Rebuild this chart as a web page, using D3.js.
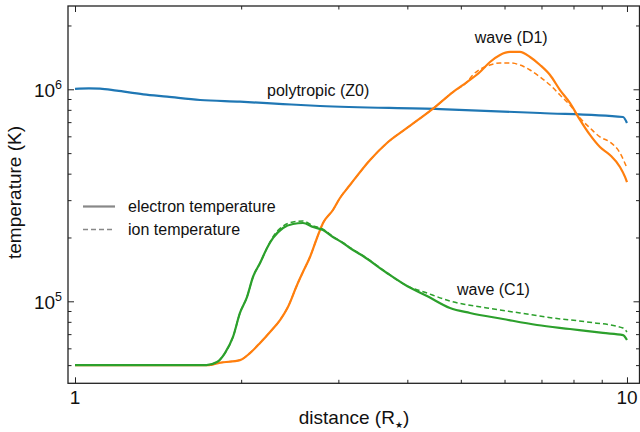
<!DOCTYPE html>
<html>
<head>
<meta charset="utf-8">
<script src="https://cdn.jsdelivr.net/npm/d3@7"></script>
<style>
  html, body { margin: 0; padding: 0; background: #fff; }
  svg { display: block; font-family: "Liberation Sans", Arial, Helvetica, sans-serif; }
</style>
</head>
<body>
<svg id="chart" width="640" height="432"></svg>
<script>
// ---- data (distance in R*, temperature in K) ----
const polytropicZ0 = [[1,1.005e6],[1.06,1.01e6],[1.11,1.008e6],[1.19,0.985e6],[1.33,0.947e6],[1.468,0.923e6],[1.685,0.89e6],[1.99,0.874e6],[2.381,0.852e6],[2.779,0.834e6],[4.584,0.807e6],[6.958,0.773e6],[9.835,0.74e6],[10,0.693e6]];

const waveD1Electron = [[1,5.0e4],[1.75,5.0e4],[1.83,5.13e4],[1.99,5.28e4],[2.075,5.7e4],[2.164,6.36e4],[2.256,7.17e4],[2.352,8.16e4],[2.431,9.4e4],[2.525,1.194e5],[2.588,1.375e5],[2.665,1.618e5],[2.744,1.989e5],[2.814,2.34e5],[2.933,2.696e5],[3.02,3.07e5],[3.149,3.536e5],[3.424,4.64e5],[3.674,5.58e5],[3.995,6.57e5],[4.452,8.1e5],[4.839,9.71e5],[5.13,1.082e6],[5.416,1.207e6],[5.647,1.345e6],[5.888,1.452e6],[6.138,1.5e6],[6.4,1.5e6],[6.673,1.42e6],[6.958,1.302e6],[7.254,1.168e6],[7.563,0.992e6],[7.882,0.862e6],[8.22,0.717e6],[8.57,0.609e6],[8.934,0.534e6],[9.315,0.49e6],[9.712,0.43e6],[9.918,0.386e6],[10,0.365e6]];

const waveD1Ion = [[1,5.0e4],[1.75,5.0e4],[1.83,5.13e4],[1.99,5.28e4],[2.075,5.7e4],[2.164,6.36e4],[2.256,7.17e4],[2.352,8.16e4],[2.431,9.4e4],[2.525,1.194e5],[2.588,1.375e5],[2.665,1.618e5],[2.744,1.989e5],[2.814,2.34e5],[2.933,2.696e5],[3.02,3.07e5],[3.149,3.536e5],[3.424,4.64e5],[3.674,5.58e5],[3.995,6.57e5],[4.452,8.1e5],[4.839,9.71e5],[5.13,1.082e6],[5.26,1.17e6],[5.647,1.302e6],[5.888,1.331e6],[6.138,1.331e6],[6.4,1.302e6],[6.673,1.233e6],[6.958,1.143e6],[7.254,1.048e6],[7.563,0.94e6],[7.882,0.843e6],[8.22,0.732e6],[8.57,0.657e6],[8.934,0.596e6],[9.315,0.564e6],[9.712,0.501e6],[10,0.425e6]];

const waveC1Electron = [[1,5e4],[1.73,5e4],[1.808,5.17e4],[1.869,5.7e4],[1.933,6.79e4],[1.99,8.81e4],[2.049,1.047e5],[2.101,1.302e5],[2.164,1.516e5],[2.228,1.784e5],[2.285,1.989e5],[2.381,2.217e5],[2.483,2.315e5],[2.588,2.34e5],[2.699,2.241e5],[2.814,2.17e5],[2.933,2.01e5],[3.058,1.884e5],[3.149,1.784e5],[3.325,1.635e5],[3.674,1.36e5],[3.995,1.181e5],[4.342,1.059e5],[4.779,9.3e4],[5.195,8.81e4],[5.962,8.25e4],[6.871,7.73e4],[7.882,7.4e4],[9.046,7.09e4],[9.835,6.93e4],[10,6.57e4]];

const waveC1Ion = [[1,5e4],[1.73,5e4],[1.808,5.17e4],[1.869,5.7e4],[1.933,6.79e4],[1.99,8.81e4],[2.049,1.047e5],[2.101,1.302e5],[2.164,1.516e5],[2.228,1.784e5],[2.285,2.02e5],[2.381,2.26e5],[2.483,2.366e5],[2.588,2.39e5],[2.699,2.27e5],[2.814,2.19e5],[2.933,2.02e5],[3.058,1.89e5],[3.149,1.79e5],[3.325,1.64e5],[3.674,1.365e5],[3.95,1.2e5],[4.342,1.094e5],[4.779,1.003e5],[5.577,9.3e4],[6.4,8.81e4],[7.345,8.34e4],[8.463,7.99e4],[9.835,7.48e4],[10,7.17e4]];

const xMajorTicks = [1, 10];
const xTickLabels = ["1", "10"];
const yMajorTicks = [1e5, 1e6];
const yTickExponents = ["5", "6"];

const seriesLabels = [
  { text: "polytropic (Z0)", d: 2.228, T: 0.93e6 },
  { text: "wave (D1)", d: 5.30, T: 1.654e6 },
  { text: "wave (C1)", d: 4.92, T: 1.07e5 }
];
const legendItems = [
  { text: "electron temperature", dash: null },
  { text: "ion temperature", dash: "5,3" }
];

// ---- layout ----
const svg = d3.select("#chart");
const L = 68, R = 640, T0 = 6, B = 383.3;

const x = d3.scaleLog().domain([0.9712, 10.558]).range([L, R]);
const y = d3.scaleLog().domain([4.104e4, 2.471e6]).range([B, T0]);

const colors = { blue: "#1f77b4", orange: "#ff7f0e", green: "#2ca02c" };
const axisColor = "#222";

svg.append("defs").append("clipPath").attr("id", "clip")
  .append("rect").attr("x", L).attr("y", T0).attr("width", R - L).attr("height", B - T0);

const line = d3.line().x(d => x(d[0])).y(d => y(d[1])).curve(d3.curveMonotoneX);

const plot = svg.append("g").attr("clip-path", "url(#clip)");
function drawLine(data, color, dash) {
  plot.append("path").datum(data)
    .attr("d", line)
    .attr("fill", "none")
    .attr("stroke", color)
    .attr("stroke-width", dash ? 1.5 : 2.2)
    .attr("stroke-dasharray", dash || null)
    .attr("stroke-linejoin", "round")
    .attr("stroke-linecap", "butt");
}
drawLine(polytropicZ0, colors.blue, null);
drawLine(waveD1Electron, colors.orange, null);
drawLine(waveD1Ion, colors.orange, "5,3");
drawLine(waveC1Electron, colors.green, null);
drawLine(waveC1Ion, colors.green, "5,3");

// ---- axes (ticks inside, all four sides) ----
const xMinor = [];
for (let k = 2; k <= 9; k++) xMinor.push(k);
const yMinor = [];
[1e4, 1e5, 1e6].forEach(dec => { for (let k = 2; k <= 9; k++) { const v = k * dec; if (v >= y.domain()[0] && v <= y.domain()[1]) yMinor.push(v); } });

function styleAxis(g) {
  g.select(".domain").remove();
  g.selectAll(".tick line").attr("stroke", axisColor).attr("stroke-width", 1);
  g.selectAll(".tick text").remove();
}
svg.append("g").attr("transform", `translate(0,${B})`)
  .call(d3.axisTop(x).tickValues(xMajorTicks).tickSize(6)).call(styleAxis);
svg.append("g").attr("transform", `translate(0,${B})`)
  .call(d3.axisTop(x).tickValues(xMinor).tickSize(3.5)).call(styleAxis);
svg.append("g").attr("transform", `translate(0,${T0})`)
  .call(d3.axisBottom(x).tickValues(xMajorTicks).tickSize(6)).call(styleAxis);
svg.append("g").attr("transform", `translate(0,${T0})`)
  .call(d3.axisBottom(x).tickValues(xMinor).tickSize(3.5)).call(styleAxis);
svg.append("g").attr("transform", `translate(${L},0)`)
  .call(d3.axisRight(y).tickValues(yMajorTicks).tickSize(6)).call(styleAxis);
svg.append("g").attr("transform", `translate(${L},0)`)
  .call(d3.axisRight(y).tickValues(yMinor).tickSize(3.5)).call(styleAxis);
svg.append("g").attr("transform", `translate(${R - 0.5},0)`)
  .call(d3.axisLeft(y).tickValues(yMajorTicks).tickSize(6)).call(styleAxis);
svg.append("g").attr("transform", `translate(${R - 0.5},0)`)
  .call(d3.axisLeft(y).tickValues(yMinor).tickSize(3.5)).call(styleAxis);

svg.append("rect").attr("x", L).attr("y", T0).attr("width", R - L - 0.5).attr("height", B - T0)
  .attr("fill", "none").attr("stroke", axisColor).attr("stroke-width", 1.3);

// tick labels
xMajorTicks.forEach((v, i) => {
  svg.append("text").attr("x", x(v)).attr("y", B + 20.5)
    .attr("text-anchor", "middle").attr("font-size", 19).attr("fill", "#111")
    .text(xTickLabels[i]);
});
yMajorTicks.forEach((v, i) => {
  const t = svg.append("text").attr("x", L - 6).attr("y", y(v) + 7.5)
    .attr("text-anchor", "end").attr("font-size", 19).attr("fill", "#111");
  t.append("tspan").text("10");
  t.append("tspan").attr("font-size", 12.5).attr("dy", -8).text(yTickExponents[i]);
});

// axis titles
const xt = svg.append("text").attr("x", 354).attr("y", 424)
  .attr("text-anchor", "middle").attr("font-size", 19).attr("fill", "#111");
xt.append("tspan").text("distance (R");
xt.append("tspan").attr("font-size", 9).attr("dy", 4).text("★");
xt.append("tspan").attr("dy", -4).text(")");

svg.append("text").attr("transform", `translate(21,192.5) rotate(-90)`)
  .attr("text-anchor", "middle").attr("font-size", 19).attr("fill", "#111")
  .text("temperature (K)");

// series labels
seriesLabels.forEach(s => {
  svg.append("text").attr("x", x(s.d)).attr("y", y(s.T))
    .attr("font-size", 16).attr("fill", "#111").text(s.text);
});

// legend
legendItems.forEach((it, i) => {
  const ly = 206.5 + i * 23;
  svg.append("line").attr("x1", 83).attr("x2", 115).attr("y1", ly).attr("y2", ly)
    .attr("stroke", "#888").attr("stroke-width", it.dash ? 1.6 : 2.2)
    .attr("stroke-dasharray", it.dash);
  svg.append("text").attr("x", 128).attr("y", ly + 5.5)
    .attr("font-size", 16).attr("fill", "#111").text(it.text);
});
</script>
</body>
</html>
